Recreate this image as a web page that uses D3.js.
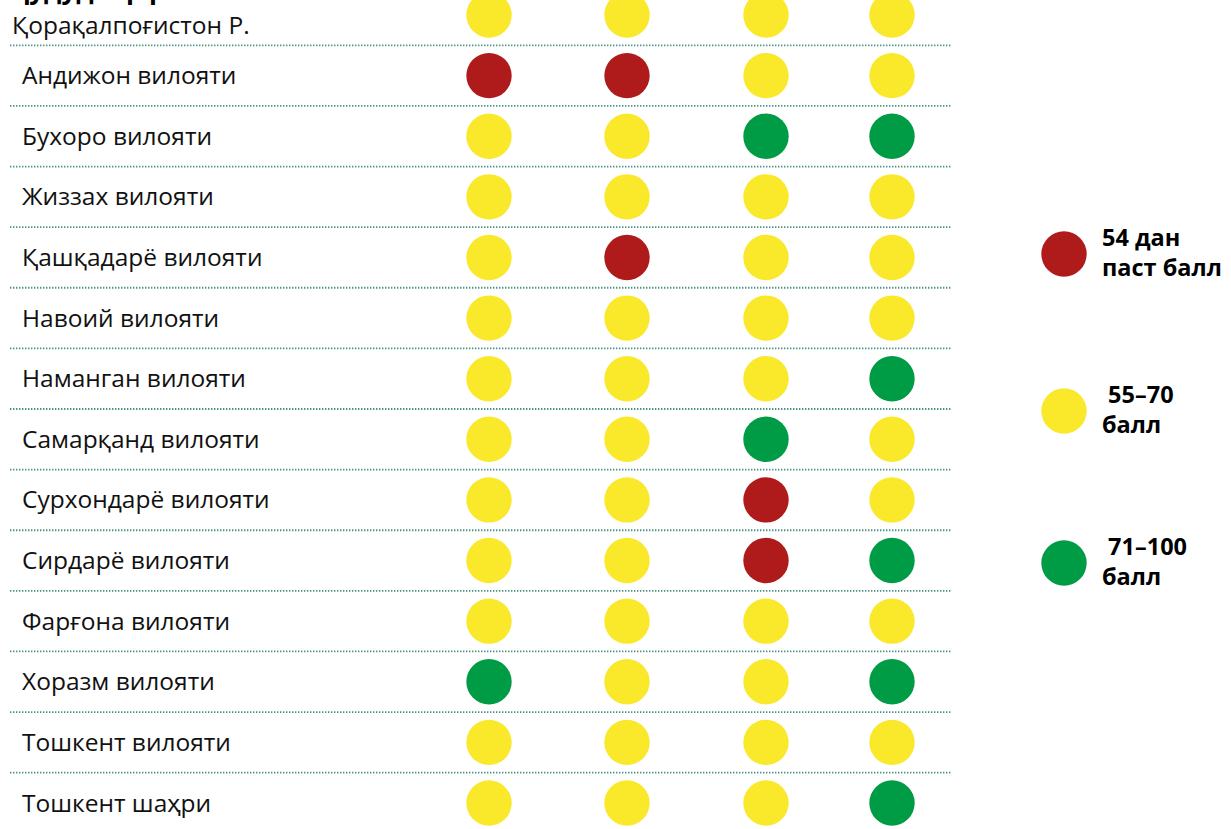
<!DOCTYPE html>
<html>
<head>
<meta charset="utf-8">
<script src="https://cdn.jsdelivr.net/npm/d3@7"></script>
<style>
  body { margin: 0; background: #fff; overflow: hidden; }
  text { font-family: "Open Sans", "Noto Sans", sans-serif; }
</style>
</head>
<body>
<div id="container"></div>
<script>
// regions (rows), four unnamed columns, score class per cell
var regions = ["Қорақалпоғистон Р.", "Андижон вилояти", "Бухоро вилояти", "Жиззах вилояти",
  "Қашқадарё вилояти", "Навоий вилояти", "Наманган вилояти", "Самарқанд вилояти",
  "Сурхондарё вилояти", "Сирдарё вилояти", "Фарғона вилояти", "Хоразм вилояти",
  "Тошкент вилояти", "Тошкент шаҳри"]
var columns = ["c1", "c2", "c3", "c4"]
// 0 = below 54, 1 = 55-70, 2 = 71-100
var scores = [
  [1, 1, 1, 1],
  [0, 0, 1, 1],
  [1, 1, 2, 2],
  [1, 1, 1, 1],
  [1, 0, 1, 1],
  [1, 1, 1, 1],
  [1, 1, 1, 2],
  [1, 1, 2, 1],
  [1, 1, 0, 1],
  [1, 1, 0, 2],
  [1, 1, 1, 1],
  [2, 1, 1, 2],
  [1, 1, 1, 1],
  [1, 1, 1, 2]
]
var legendLines = [["54 дан", "паст балл"], [" 55–70", "балл"], [" 71–100", "балл"]]
var classes = [0, 1, 2]
var colors = ["#AF1A1A", "#FAE82A", "#009B45"]

var width = 1231, height = 829

var svg = d3.select("#container").append("svg")
    .attr("width", width)
    .attr("height", height)

var y = d3.scalePoint().domain(regions).range([15, 803])
var x = d3.scaleOrdinal().domain(columns).range([489, 627, 766, 892])
var color = d3.scaleOrdinal().domain(classes).range(colors)
var step = y.step()

// header, mostly cut off at the top
svg.append("text")
    .attr("x", 10).attr("y", -1)
    .attr("font-size", 26).attr("font-weight", "bold")
    .text("Ҳудудлар рейтинги")

// dotted separators
svg.append("g").selectAll("line")
    .data(regions.slice(0, -1))
    .enter().append("line")
      .attr("x1", 10).attr("x2", 952)
      .attr("y1", d => y(d) + step / 2)
      .attr("y2", d => y(d) + step / 2)
      .attr("stroke", "#4a9383")
      .attr("stroke-width", 1.8)
      .attr("stroke-dasharray", "1.4,1.6")

// labels
svg.append("g").selectAll("text")
    .data(regions)
    .enter().append("text")
      .attr("x", (d, i) => i == 0 ? 12 : 22)
      .attr("y", (d, i) => y(d) + (i == 0 ? 10 : 0))
      .attr("dy", "0.35em")
      .attr("font-size", 24.5)
      .attr("fill", "#111")
      .text(d => d)

// dots
var rows = svg.append("g").selectAll("g")
    .data(regions)
    .enter().append("g")
      .attr("transform", d => "translate(0," + y(d) + ")")

rows.selectAll("circle")
    .data((d, i) => scores[i].map((v, j) => ({col: columns[j], v: v})))
    .enter().append("circle")
      .attr("cx", d => x(d.col))
      .attr("cy", 0)
      .attr("r", 22.7)
      .attr("fill", d => color(d.v))

// legend
var ly = d3.scaleOrdinal().domain(classes).range([254, 411, 563])
var leg = svg.append("g").selectAll("g")
    .data(classes)
    .enter().append("g")
      .attr("transform", d => "translate(1064," + ly(d) + ")")

leg.append("circle")
    .attr("r", 22.7)
    .attr("fill", d => color(d))

leg.append("text")
    .attr("font-size", 23.5)
    .attr("font-weight", "bold")
    .style("white-space", "pre")
    .selectAll("tspan")
    .data(d => legendLines[d])
    .enter().append("tspan")
      .attr("x", 38)
      .attr("y", (d, i) => i == 0 ? -8 : 22)
      .text(d => d)
</script>
</body>
</html>
